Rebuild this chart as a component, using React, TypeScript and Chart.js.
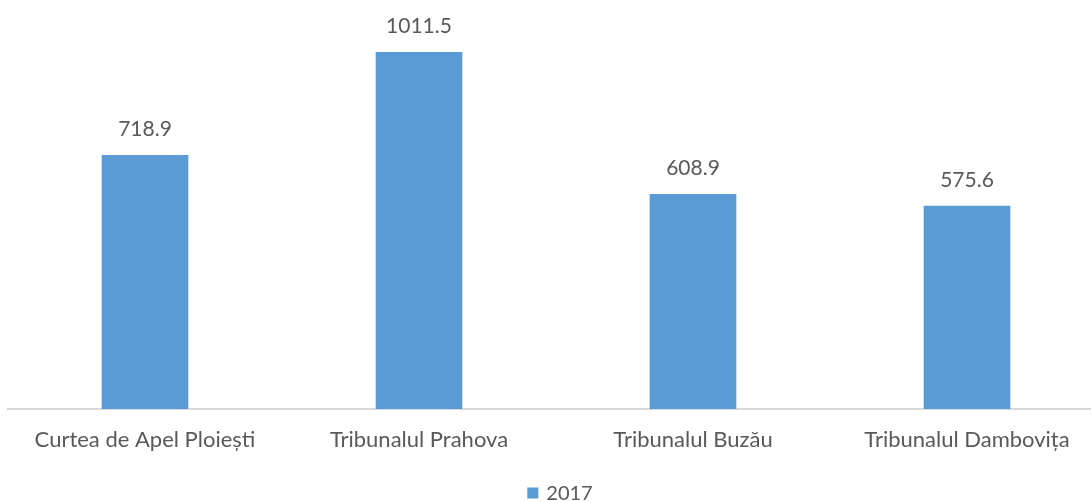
import React, { useEffect, useRef } from "react";
import { Chart, registerables } from "chart.js";

Chart.register(...registerables);

const categories = [
  "Curtea de Apel Ploiești",
  "Tribunalul Prahova",
  "Tribunalul Buzău",
  "Tribunalul Dambovița",
];
const seriesLabel = "2017";
const values2017 = [718.9, 1011.5, 608.9, 575.6];

const FONT = "Lato, 'Open Sans', sans-serif";
const TEXT = "#595959";
const BAR = "#5B9BD5";

const valueLabels = {
  id: "valueLabels",
  afterDatasetsDraw(chart: any) {
    const ctx = chart.ctx;
    const meta = chart.getDatasetMeta(0);
    ctx.save();
    ctx.font = `21px ${FONT}`;
    ctx.fillStyle = TEXT;
    ctx.textAlign = "center";
    ctx.textBaseline = "alphabetic";
    meta.data.forEach((el: any, i: number) => {
      const v = chart.data.datasets[0].data[i] as number;
      ctx.fillText(v.toFixed(1), el.x, el.y - 19);
    });
    ctx.restore();
  },
};

const bottomLegend = {
  id: "bottomLegend",
  afterDraw(chart: any) {
    const ctx = chart.ctx;
    const ds = chart.data.datasets[0];
    ctx.save();
    ctx.font = `20px ${FONT}`;
    const label = String(ds.label);
    const tw = ctx.measureText(label).width;
    const box = 11;
    const gap = 8;
    const total = box + gap + tw;
    const cx = (chart.chartArea.left + chart.chartArea.right) / 2 + 4;
    const cy = chart.height - 9;
    const x0 = cx - total / 2;
    ctx.fillStyle = ds.backgroundColor;
    ctx.fillRect(x0, cy - box / 2, box, box);
    ctx.fillStyle = TEXT;
    ctx.textAlign = "left";
    ctx.textBaseline = "middle";
    ctx.fillText(label, x0 + box + gap, cy + 1);
    ctx.restore();
  },
};

export default function App() {
  const ref = useRef<HTMLCanvasElement>(null);
  useEffect(() => {
    if (!ref.current) return;
    const chart = new Chart(ref.current, {
      type: "bar",
      data: {
        labels: categories,
        datasets: [
          {
            label: seriesLabel,
            data: values2017,
            backgroundColor: BAR,
            borderWidth: 0,
            barThickness: 86,
          },
        ],
      },
      options: {
        animation: false,
        responsive: false,
        maintainAspectRatio: false,
        layout: { padding: { left: 8, right: 0, top: 21, bottom: 33 } },
        plugins: {
          legend: { display: false },
          tooltip: { enabled: false },
        },
        scales: {
          x: {
            grid: { display: false, drawTicks: false },
            border: { display: true, color: "#D9D9D9", width: 2 },
            ticks: {
              color: TEXT,
              font: { family: FONT, size: 22 },
              padding: 18,
              maxRotation: 0,
              autoSkip: false,
            },
            afterFit(scale: any) {
              scale.height = 60;
            },
          },
          y: {
            display: false,
            min: 0,
            max: 1100,
          },
        },
      },
      plugins: [valueLabels, bottomLegend],
    });
    return () => chart.destroy();
  }, []);
  return (
    <div
      style={{
        position: "fixed",
        left: 0,
        top: 0,
        width: 1091,
        height: 502,
        overflow: "hidden",
        background: "#fff",
      }}
    >
      <canvas ref={ref} width={1104} height={502} style={{ display: "block" }} />
    </div>
  );
}
